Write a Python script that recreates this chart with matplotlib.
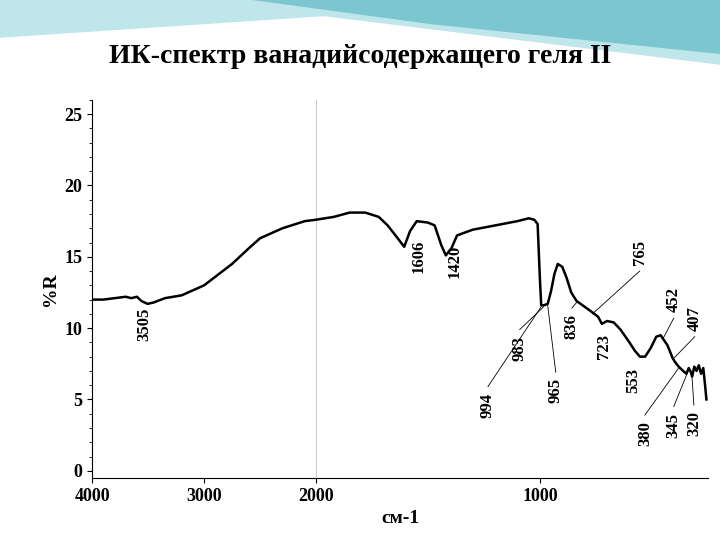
import matplotlib.pyplot as plt
import numpy as np
from matplotlib.patches import Polygon

# spectrum (wavenumber, %R)
wavenumber = [4000, 3900, 3800, 3700, 3650, 3600, 3560, 3505, 3450, 3350, 3200, 3000,
              2900, 2750, 2600, 2500, 2300, 2100, 2000, 1920, 1850, 1780, 1720, 1680,
              1640, 1606, 1580, 1550, 1500, 1470, 1440, 1420, 1395, 1370, 1300, 1200,
              1100, 1050, 1025, 1010, 1000, 994, 983, 965, 950, 935, 920, 900, 880,
              860, 836, 800, 765, 740, 723, 700, 670, 640, 600, 575, 553, 530, 505,
              480, 460, 452, 430, 407, 395, 380, 360, 345, 335, 325, 320, 310, 300,
              290, 280, 270, 262, 256]
reflect = [12.0, 12.0, 12.1, 12.2, 12.1, 12.2, 11.9, 11.7, 11.8, 12.1, 12.3, 13.0,
           13.6, 14.5, 15.6, 16.3, 17.0, 17.5, 17.6, 17.8, 18.1, 18.1, 17.8, 17.2,
           16.4, 15.7, 16.8, 17.5, 17.4, 17.2, 15.8, 15.1, 15.6, 16.5, 16.9, 17.2,
           17.5, 17.7, 17.6, 17.3, 13.5, 11.6, 11.6, 11.7, 12.6, 13.8, 14.5, 14.3, 13.5,
           12.5, 11.9, 11.5, 11.1, 10.8, 10.3, 10.5, 10.4, 9.9, 9.0, 8.4, 8.0, 8.0, 8.6,
           9.4, 9.5, 9.3, 8.8, 7.9, 7.6, 7.3, 7.0, 6.8, 7.2, 6.9, 6.6, 7.3, 7.0,
           7.4, 6.8, 7.2, 6.0, 5.0]

# peak labels: (text, spectrum point, label position)
peak_names = ["3505", "1606", "1420", "994", "983", "965", "836", "765", "723",
              "553", "452", "407", "380", "345", "320"]
peak_at = [None, None, None, (994, 11.6), (983, 11.6), (965, 11.7), (836, 11.9),
           (765, 11.1), None, None, (452, 9.3), (407, 7.9), (380, 7.3), (345, 6.8),
           (320, 6.6)]
label_x = [3530, 1540, 1380, 1232, 1090, 929, 857, 554, 714, 585, 402, 308, 531, 402, 312]
label_y = [10.3, 15.0, 14.7, 4.6, 8.6, 5.6, 10.1, 15.3, 8.7, 6.3, 12.0, 10.7, 2.6, 3.2, 3.3]

x_ticks = [4000, 3000, 2000, 1000]


# IR instrument scale: 2000 cm-1 and below is stretched twice
def fwd(x):
    x = np.asarray(x, dtype=float)
    return -np.where(x >= 2000, (4000 - x) / 1000, 2 + (2000 - x) / 500)


def inv(u):
    u = -np.asarray(u, dtype=float)
    return np.where(u <= 2, 4000 - 1000 * u, 2000 - 500 * (u - 2))


serif = "Liberation Serif"
fig = plt.figure(figsize=(7.2, 5.4), dpi=100)

# decorative header band
bg = fig.add_axes([0, 0, 1, 1], zorder=-1)
bg.set_xlim(0, 1)
bg.set_ylim(0, 1)
bg.axis("off")
bg.add_patch(Polygon([[0, 1], [0, 0.93], [0.45, 0.97], [1, 0.88], [1, 1]],
                     color="#bfe6ea", lw=0))
bg.add_patch(Polygon([[0.35, 1], [0.6, 0.955], [1, 0.9], [1, 1]],
                     color="#7cc6d0", lw=0))
fig.text(0.5, 0.895, "ИК-спектр ванадийсодержащего геля II", ha="center", va="center",
         fontsize=20, fontweight="bold", family=serif)

ax = fig.add_axes([0.128, 0.115, 0.855, 0.70])
ax.set_xscale("function", functions=(fwd, inv))
ax.set_xlim(4000, 250)
ax.set_ylim(-0.5, 26)
ax.axvline(2000, color="#cccccc", lw=0.8)
ax.plot(wavenumber, reflect, color="black", lw=1.8)

for name, pt, lx, ly in zip(peak_names, peak_at, label_x, label_y):
    ax.text(lx, ly, name, rotation=90, ha="center", va="center", fontsize=12,
            fontweight="bold", family=serif)
    if pt is not None:
        ax.plot([pt[0], lx], [pt[1] - 0.1, ly + (1.3 if ly < pt[1] else -1.3)],
                color="black", lw=0.6)

for s in ["top", "right"]:
    ax.spines[s].set_visible(False)
ax.set_xticks(x_ticks)
ax.set_xticklabels([str(t) for t in x_ticks])
ax.set_yticks([0, 5, 10, 15, 20, 25])
ax.minorticks_on()
ax.set_xticks([], minor=True)
for lab in ax.get_xticklabels() + ax.get_yticklabels():
    lab.set_fontweight("bold")
    lab.set_family(serif)
    lab.set_fontsize(13)
ax.set_ylabel("%R", fontsize=14, fontweight="bold", family=serif)
ax.set_xlabel("см-1", fontsize=14, fontweight="bold", family=serif)

fig.savefig("out.png", dpi=100)
